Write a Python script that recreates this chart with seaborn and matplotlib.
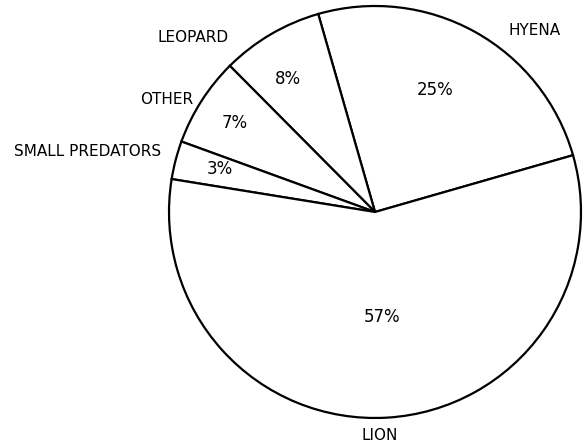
import matplotlib
matplotlib.use("Agg")
import matplotlib.pyplot as plt
import seaborn as sns

# Data (order: counter-clockwise from the Hyena/Lion boundary)
categories = ["HYENA", "LEOPARD", "OTHER", "SMALL PREDATORS", "LION"]
shares = [25, 8, 7, 3, 57]
pct_labels = ["25%", "8%", "7%", "3%", "57%"]

sns.set_theme(style="white")
plt.rcParams["font.family"] = ["DejaVu Sans"]

fig = plt.figure(figsize=(5.88, 4.44), dpi=100)
fig.patch.set_facecolor("white")
ax = fig.add_axes([0.2874, 0.0586, 0.7007, 0.9279])

wedges, _ = ax.pie(
    shares,
    startangle=16,
    counterclock=True,
    colors=["white"] * len(shares),
    wedgeprops=dict(edgecolor="black", linewidth=1.6),
    radius=1.0,
)
ax.set_xlim(-1, 1)
ax.set_ylim(-1, 1)
ax.set_aspect("equal")
ax.axis("off")

# outside category labels (positions in units of radius)
cat_pos = [(0.777, 0.883), (-0.883, 0.845), (-1.010, 0.544), (-1.393, 0.296), (0.024, -1.087)]
for name, (x, y) in zip(categories, cat_pos):
    ax.text(x, y, name, ha="center", va="center", fontsize=11, color="black", clip_on=False)

# percent labels inside slices
pct_pos = [(0.291, 0.592), (-0.422, 0.646), (-0.680, 0.432), (-0.752, 0.210), (0.034, -0.510)]
for lab, (x, y) in zip(pct_labels, pct_pos):
    ax.text(x, y, lab, ha="center", va="center", fontsize=12, color="black", clip_on=False)

fig.savefig("out.png", dpi=100, facecolor="white")
